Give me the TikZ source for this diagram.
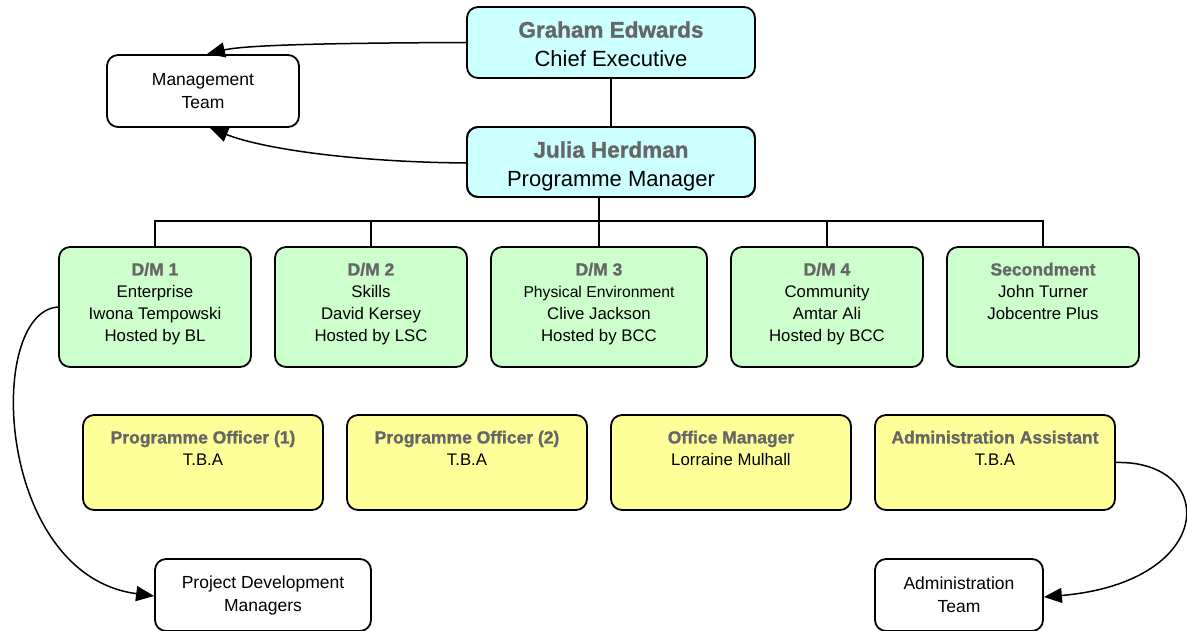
\documentclass[tikz,border=0pt]{standalone}
\usepackage{fontspec}
\setmainfont{Liberation Sans}
\newfontfamily\hdfont{Liberation Sans}[BoldFeatures={FakeBold=1.2}]
\usetikzlibrary{arrows.meta,calc}
\definecolor{cyanfill}{HTML}{CCFFFF}
\definecolor{greenfill}{HTML}{CCFFCC}
\definecolor{yellowfill}{HTML}{FFFF99}
\definecolor{headgray}{HTML}{666666}
\newcommand{\hd}[1]{{\hdfont\bfseries\color{headgray}#1}}
\newcommand{\hdbig}[1]{{\hdfont\bfseries\color{headgray}\fontsize{22.5}{29}\selectfont #1}}
\newcommand{\hdmid}[1]{{\hdfont\bfseries\color{headgray}\fontsize{17.5}{22}\selectfont #1}}
\begin{document}
\begin{tikzpicture}[x=1pt,y=-1pt,
  box/.style={draw=black, line width=1.8pt, rounded corners=11pt, inner sep=0pt},
  topbox/.style={box, fill=cyanfill, minimum width=288pt},
  dmbox/.style={box, fill=greenfill, minimum width=192pt, minimum height=120pt},
  offbox/.style={box, fill=yellowfill, minimum width=240pt, minimum height=95pt},
  teambox/.style={box, fill=white, minimum height=72pt, align=center, font=\fontsize{17.5}{23}\selectfont},
  txt/.style={inner sep=0pt, align=center, anchor=north},
  midtxt/.style={txt, font=\fontsize{16.8}{22}\selectfont},
  bigtxt/.style={txt, font=\fontsize{22}{28.5}\selectfont},
  tree/.style={line width=1.4pt},
  arr/.style={-{Triangle[length=18pt,width=15pt]}, line width=1.5pt}
]
\useasboundingbox (0,0) rectangle (1187,631);

% top boxes
\node[topbox, minimum height=71pt] (ge) at (611,42.5) {};
\node[bigtxt] (ge-t) at ($(ge.north)+(0,15)$) {\hdbig{Graham Edwards}\\Chief Executive};
\node[topbox, minimum height=70pt] (jh) at (611,162) {};
\begin{scope}
  \clip[rounded corners=11pt] (467,127) rectangle (755,197);
  \node[bigtxt] (jh-t) at ($(jh.north)+(0,15)$) {\hdbig{Julia Herdman}\\Programme Manager};
\end{scope}
\node[topbox, minimum height=70pt, fill=none] at (611,162) {};

\node[teambox, minimum width=192pt] (mt) at (203,91) {Management\\Team};

% D/M boxes
\node[dmbox] (dm1) at (155,307) {};
\node[dmbox] (dm2) at (371,307) {};
\node[dmbox, minimum width=216pt] (dm3) at (599,307) {};
\node[dmbox] (dm4) at (827,307) {};
\node[dmbox] (sec) at (1043,307) {};
\node[midtxt] (dm1-t) at ($(dm1.north)+(0,16.5)$) {\hdmid{D/M 1}\\Enterprise\\Iwona Tempowski\\Hosted by BL};
\node[midtxt] (dm2-t) at ($(dm2.north)+(0,16.5)$) {\hdmid{D/M 2}\\Skills\\David Kersey\\Hosted by LSC};
\node[midtxt] (dm3-t) at ($(dm3.north)+(0,16.5)$) {\hdmid{D/M 3}\\{\fontsize{15.7}{22}\selectfont Physical Environment}\\Clive Jackson\\Hosted by BCC};
\node[midtxt] (dm4-t) at ($(dm4.north)+(0,16.5)$) {\hdmid{D/M 4}\\Community\\Amtar Ali\\Hosted by BCC};
\node[midtxt] (sec-t) at ($(sec.north)+(0,16.5)$) {\hdmid{Secondment}\\John Turner\\Jobcentre Plus};

% officer boxes
\node[offbox] (po1) at (203,462.5) {};
\node[offbox] (po2) at (467,462.5) {};
\node[offbox] (om) at (731,462.5) {};
\node[offbox] (aa) at (995,462.5) {};
\node[midtxt] (po1-t) at ($(po1.north)+(0,16.5)$) {\hdmid{Programme Officer (1)}\\T.B.A};
\node[midtxt] (po2-t) at ($(po2.north)+(0,16.5)$) {\hdmid{Programme Officer (2)}\\T.B.A};
\node[midtxt] (om-t) at ($(om.north)+(0,16.5)$) {\hdmid{Office Manager}\\Lorraine Mulhall};
\node[midtxt] (aa-t) at ($(aa.north)+(0,16.5)$) {\hdmid{Administration Assistant}\\T.B.A};

% team boxes
\node[teambox, minimum width=216pt] (pdm) at (263,595) {Project Development\\Managers};
\node[teambox, minimum width=168pt] (at) at (959,595) {Administration\\Team};

% tree connectors
\draw[tree] (ge.south) -- (jh.north);
\draw[tree] (dm3.north |- jh.south) -- (dm3.north);
\draw[tree] (dm1.north) -- ++(0,-25) -| (sec.north);
\draw[tree] (dm2.north) -- ++(0,-25);
\draw[tree] (dm4.north) -- ++(0,-25);

% arrows
\draw[arr] (ge.west) .. controls (330,43) and (245,45) .. ([xshift=4pt]mt.north);
\draw[arr] ([yshift=-1pt]jh.west) .. controls (350,162) and (260,148) .. ([xshift=7pt]mt.south);
\draw[arr] (dm1.west) .. controls (-15,312) and (-5,575) .. ([yshift=-1pt]pdm.west);
\draw[arr] (aa.east) .. controls (1218,460) and (1218,582) .. ([yshift=-2pt]at.east);
\end{tikzpicture}
\end{document}
